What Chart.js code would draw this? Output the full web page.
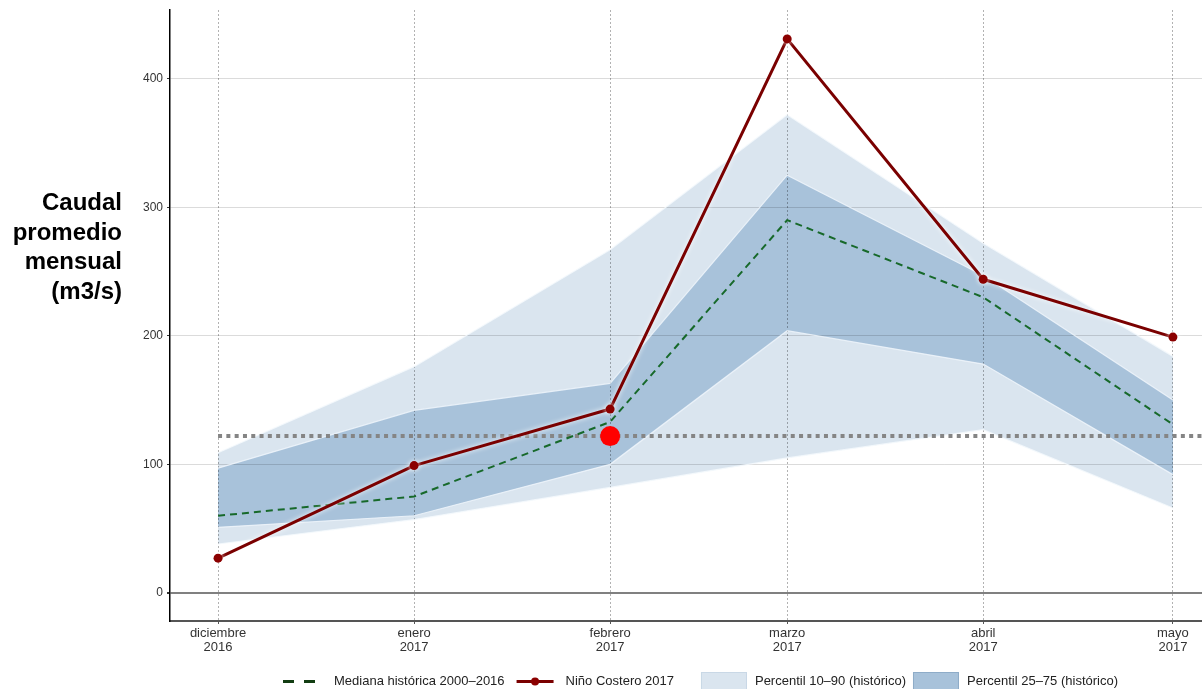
<!DOCTYPE html>
<html>
<head>
<meta charset="utf-8">
<script src="https://cdn.jsdelivr.net/npm/chart.js@4.4.1/dist/chart.umd.min.js"></script>
<style>
html,body{margin:0;padding:0;background:#fff;}
#wrap{position:relative;width:1202px;height:689px;}
</style>
</head>
<body>
<div id="wrap"><canvas id="c" width="1202" height="689"></canvas></div>
<script>
// ---------- DATA ----------
const fechas = ['2016-12-01','2017-01-01','2017-02-01','2017-03-01','2017-04-01','2017-05-01'];
const etiquetasMes = [['diciembre','2016'],['enero','2017'],['febrero','2017'],['marzo','2017'],['abril','2017'],['mayo','2017']];
const nino2017 = [27, 99, 143, 431, 244, 199];
const mediana  = [60, 75, 133, 290, 230, 131];
const p10      = [38, 57, 82, 105, 127, 66];
const p90      = [109, 176, 267, 372, 272, 184];
const p25      = [51, 60, 100, 204, 178, 92];
const p75      = [97, 142, 163, 325, 247, 150];
const umbral = 122;            // horizontal dotted reference level
const puntoRojoMes = 2;        // index of the highlighted month (febrero)
const puntoRojoValor = 122;
const yTicks = [0, 100, 200, 300, 400];
const nombres = {
  mediana: 'Mediana histórica 2000–2016',
  nino: 'Niño Costero 2017',
  p1090: 'Percentil 10–90 (histórico)',
  p2575: 'Percentil 25–75 (histórico)'
};
const tituloY = ['Caudal', 'promedio', 'mensual', '(m3/s)'];

// ---------- HELPERS ----------
const DAY = 86400000;
const t0 = Date.parse(fechas[0]);
const xs = fechas.map(f => (Date.parse(f) - t0) / DAY);
const pts = arr => arr.map((v, i) => ({x: xs[i], y: v}));
const X_MIN = -7.6, X_MAX = 155.6;
const FONT = "'Liberation Sans', Arial, sans-serif";
Chart.defaults.font.family = FONT;

const COL = {
  light: '#dae5ef', lightEdge: '#c9d8e6',
  dark: '#a8c2da', darkEdge: '#8eacc8',
  nino: '#7a0000', ninoPt: '#8b0000',
  med: '#17692a', medKey: '#123d12',
  umbral: '#858585'
};

const glow = {
  id: 'glow',
  beforeDatasetDraw(chart, args) {
    if (args.index === 1) {
      const c = chart.ctx; c.save();
      c.shadowColor = 'rgba(255,255,255,0.95)'; c.shadowBlur = 5;
    }
  },
  afterDatasetDraw(chart, args) {
    if (args.index === 1) chart.ctx.restore();
  }
};

const extras = {
  id: 'extras',
  afterDraw(chart) {
    const c = chart.ctx;
    c.save();
    // Y title
    c.fillStyle = '#000';
    c.font = 'bold 24px ' + FONT;
    c.textAlign = 'right';
    c.textBaseline = 'alphabetic';
    const base = [210, 239.5, 269, 298.5];
    tituloY.forEach((t, i) => c.fillText(t, 122, base[i]));
    // Legend
    const y = 681.5;
    c.font = '13px ' + FONT;
    c.textAlign = 'left';
    c.textBaseline = 'middle';
    c.fillStyle = '#222';
    let x = 283;
    // 1 median dashed
    c.strokeStyle = COL.medKey; c.lineWidth = 3; c.setLineDash([11, 10]);
    c.beginPath(); c.moveTo(x, y); c.lineTo(x + 32, y); c.stroke();
    c.setLineDash([]);
    x += 32 + 19;
    c.fillText(nombres.mediana, x, y);
    x += c.measureText(nombres.mediana).width + 12;
    // 2 nino
    c.strokeStyle = COL.nino; c.lineWidth = 3;
    c.beginPath(); c.moveTo(x, y); c.lineTo(x + 37, y); c.stroke();
    c.fillStyle = COL.ninoPt;
    c.beginPath(); c.arc(x + 18.5, y, 4, 0, Math.PI * 2); c.fill();
    c.fillStyle = '#222';
    x += 37 + 12;
    c.fillText(nombres.nino, x, y);
    x += c.measureText(nombres.nino).width + 27;
    // 3 light box
    c.fillStyle = COL.light; c.fillRect(x, 672, 46, 18);
    c.strokeStyle = COL.lightEdge; c.lineWidth = 1; c.strokeRect(x + 0.5, 672.5, 45, 17);
    c.fillStyle = '#222';
    x += 46 + 8;
    c.fillText(nombres.p1090, x, y);
    x += c.measureText(nombres.p1090).width + 7;
    // 4 dark box
    c.fillStyle = COL.dark; c.fillRect(x, 672, 46, 18);
    c.strokeStyle = COL.darkEdge; c.lineWidth = 1; c.strokeRect(x + 0.5, 672.5, 45, 17);
    c.fillStyle = '#222';
    x += 46 + 8;
    c.fillText(nombres.p2575, x, y);
    c.restore();
  }
};

const bandLine = (data, fill, color, edge, order) => ({
  data: pts(data), fill: fill, backgroundColor: color,
  borderColor: edge, borderWidth: 1.2, pointRadius: 0, order: order, tension: 0
});

new Chart(document.getElementById('c'), {
  type: 'line',
  data: {
    datasets: [
      { label: 'punto', data: [{x: xs[puntoRojoMes], y: puntoRojoValor}], showLine: false,
        pointRadius: 10, pointBackgroundColor: '#ff0000', pointBorderWidth: 0, order: 0 },
      { label: nombres.nino, data: pts(nino2017), borderColor: COL.nino, borderWidth: 3,
        borderJoinStyle: 'round', pointRadius: 4.5, pointBackgroundColor: COL.ninoPt,
        pointBorderWidth: 0, tension: 0, order: 1 },
      { label: nombres.mediana, data: pts(mediana), borderColor: COL.med, borderWidth: 2,
        borderDash: [7, 5], pointRadius: 0, tension: 0, order: 2 },
      { label: 'umbral', data: [{x: xs[0], y: umbral}, {x: X_MAX, y: umbral}], borderColor: COL.umbral,
        borderWidth: 4, borderDash: [4, 4.3], pointRadius: 0, order: 3 },
      bandLine(p75, '+1', COL.dark, 'rgba(240,246,252,0.85)', 4),
      bandLine(p25, false, COL.dark, 'rgba(240,246,252,0.85)', 4),
      bandLine(p90, '+1', COL.light, 'rgba(245,249,253,0.85)', 5),
      bandLine(p10, false, COL.light, 'rgba(245,249,253,0.85)', 5)
    ]
  },
  options: {
    responsive: false,
    animation: false,
    devicePixelRatio: 1,
    layout: { autoPadding: false, padding: { top: 10, right: 0, bottom: 0, left: 0 } },
    plugins: {
      legend: { display: false },
      tooltip: { enabled: false },
      filler: { drawTime: 'beforeDraw' }
    },
    scales: {
      x: {
        type: 'linear', min: X_MIN, max: X_MAX,
        afterBuildTicks: s => { s.ticks = xs.map(v => ({value: v})); },
        afterFit: s => { s.height = 68; s.paddingLeft = 0; s.paddingRight = 0; },
        ticks: {
          autoSkip: false, maxRotation: 0, minRotation: 0, padding: 2, color: '#333',
          font: { size: 13, lineHeight: 1.08 },
          callback: (v, i) => etiquetasMes[i]
        },
        grid: { color: 'rgba(0,0,0,0.38)', lineWidth: 0.8, tickLength: 3, tickColor: '#555',
                tickWidth: 1, tickBorderDash: [] },
        border: { color: '#555', width: 2, dash: [2, 2] }
      },
      y: {
        min: -21.9, max: 453.5,
        afterBuildTicks: s => { s.ticks = yTicks.map(v => ({value: v})); },
        afterFit: s => { s.width = 170; s.paddingTop = 0; s.paddingBottom = 0; },
        ticks: { color: '#333', padding: 4, font: { size: 12 } },
        grid: {
          color: ctx => (ctx.tick && ctx.tick.value === 0) ? '#808080' : 'rgba(0,0,0,0.14)',
          lineWidth: ctx => (ctx.tick && ctx.tick.value === 0) ? 2 : 1,
          tickLength: 3, tickColor: '#333'
        },
        border: { color: '#000', width: 1.5 }
      }
    }
  },
  plugins: [glow, extras]
});
</script>
</body>
</html>
